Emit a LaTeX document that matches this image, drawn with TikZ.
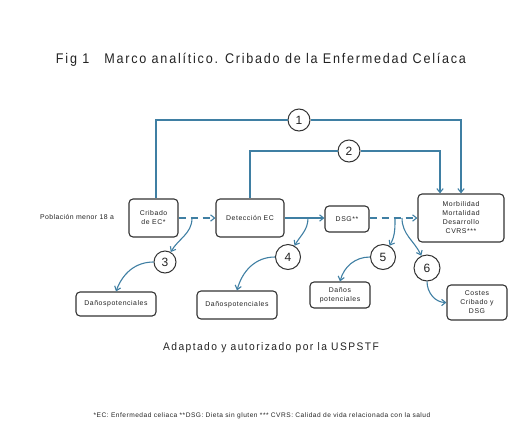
\documentclass[tikz,border=0pt]{standalone}
\usepackage{fontspec}
\setmainfont{Liberation Sans}
\usepackage{tikz}
\usetikzlibrary{arrows.meta,positioning,calc}
\definecolor{cLink}{HTML}{3F7FA3}
\definecolor{cBox}{HTML}{333333}
\definecolor{cText}{HTML}{222222}
\tikzset{
  link/.style ={-{Straight Barb[length=1.4mm,width=2.2mm]}, line width=1.1pt, draw=cLink},
  dlink/.style={link, dash pattern=on 7pt off 5pt},
  plain/.style={line width=1.1pt, draw=cLink},
  stage/.style={draw=cBox, line width=1.1pt, rounded corners=4pt, text=cText, align=center, inner sep=0pt,
                font=\fontsize{6.9}{9}\selectfont\addfontfeature{LetterSpace=8}},
  kq/.style   ={draw=cBox, line width=1pt, circle, fill=white, inner sep=0pt, minimum size=22pt, text=cText,
                font=\fontsize{12}{13}\selectfont},
  lbl/.style  ={text=cText, inner sep=0pt},
}

\begin{document}
\begin{tikzpicture}[x=1pt,y=-1pt]
        \useasboundingbox (0,0) rectangle (529,442);
        % titles
        \node[lbl,font=\fontsize{14}{16}\selectfont\addfontfeature{LetterSpace=14}] (title) at (261,60)
          {\scalebox{0.9}[1]{Fig 1\hspace{1.2em}Marco analítico. Cribado de la Enfermedad Celíaca}};
        \node[lbl,font=\fontsize{11}{13}\selectfont\addfontfeature{LetterSpace=14}] (source) at (271,348)
          {\scalebox{0.93}[1]{Adaptado y autorizado por la USPSTF}};
        \node[lbl,font=\fontsize{6.6}{8}\selectfont\addfontfeature{LetterSpace=7.5}] (notes) at (262,416)
          {*EC: Enfermedad celiaca **DSG: Dieta sin gluten *** CVRS: Calidad de vida relacionada con la salud};
        % boxes
        \node[lbl,font=\fontsize{6.9}{8}\selectfont\addfontfeature{LetterSpace=6}] (pop) at (77,217) {Población menor 18 a};
        \node[stage,minimum width=49pt,minimum height=38pt] (crib) at (153.5,218) {Cribado\\de EC*};
        \node[stage,minimum width=68pt,minimum height=38pt] (det) at (250,218) {Detección EC};
        \node[stage,minimum width=44pt,minimum height=26pt] (dsg) at (347,219) {DSG**};
        \node[stage,minimum width=86pt,minimum height=48pt] (morb) at (461,218) {Morbilidad\\Mortalidad\\Desarrollo\\CVRS***};
        \node[stage,minimum width=80pt,minimum height=24pt] (dan1) at (116,304) {Dañospotenciales};
        \node[stage,minimum width=80pt,minimum height=28pt] (dan2) at (237,305) {Dañospotenciales};
        \node[stage,minimum width=60pt,minimum height=26pt] (dan3) at (340,295) {Daños\\potenciales};
        \node[stage,minimum width=60pt,minimum height=35pt] (cost) at (477,302.5) {Costes\\Cribado y\\DSG};
        % questions
        \node[kq] (q1) at (299,120) {1};
        \node[kq] (q2) at (349,151) {2};
        \node[kq] (q3) at (165,262) {3};
        \node[kq,minimum size=25pt] (q4) at (288,257) {4};
        \node[kq,minimum size=25pt] (q5) at (383,257) {5};
        \node[kq,minimum size=26pt] (q6) at (427,268) {6};
        % overarching links
        \draw[plain] ([xshift=2.5pt]crib.north) |- (q1);
        \draw[link] (q1) -| (morb.north);
        \draw[plain] (det.north) |- (q2);
        \draw[link] (q2) -| ([xshift=-21pt]morb.north);
        % chain
        \draw[dlink] (crib.east) -- (det.west);
        \draw[link] (det.east) -- (det.east -| dsg.west);
        \draw[dlink] (det.east -| dsg.east) -- (det.east -| morb.west);
        % harms
        \coordinate (b3) at (192,218);
        \coordinate (b4) at (308,218);
        \coordinate (b5) at (395,218);
        \coordinate (b6) at (402,218);
        \draw[link] (b3) to[out=-90,in=60] (q3);
        \draw[link] (q3.west) to[out=180,in=70] (dan1.north);
        \draw[link] (b4) to[out=-90,in=60] (q4);
        \draw[link] (q4.west) to[out=180,in=75] (dan2.north);
        \draw[link] (b5) to[out=-90,in=60] (q5);
        \draw[link] (q5.west) to[out=180,in=75] (dan3.north);
        \draw[link] (b6) to[out=-90,in=115] (q6);
        \draw[link] (q6.south) to[out=-90,in=180] (cost.west);
      \end{tikzpicture}
\end{document}
